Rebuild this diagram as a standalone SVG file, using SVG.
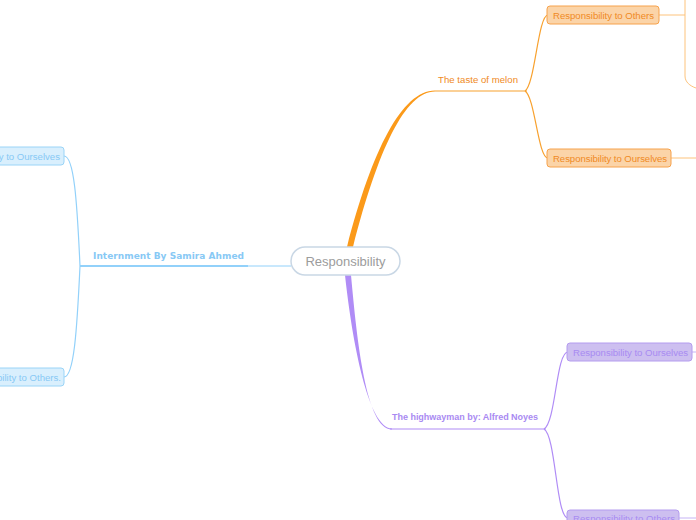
<svg xmlns="http://www.w3.org/2000/svg" width="696" height="520" viewBox="0 0 696 520">
<style>
.t{font-family:"Liberation Sans",Arial,sans-serif;font-size:9.6px}
.or{fill:#fbd4a8;stroke:#f6a24c;stroke-width:1}
.ort{fill:#f08a24}
.pu{fill:#cdbff0;stroke:#b49cef;stroke-width:1}
.put{fill:#a88bf2}
.bl{fill:#d9effd;stroke:#9ad4f7;stroke-width:1}
.blt{fill:#88c9f5}
.lo{fill:none;stroke:#f8a12e;stroke-width:1.2}
.lo2{fill:none;stroke:#fdc37c;stroke-width:1}
.lp{fill:none;stroke:#b08cf6;stroke-width:1.2}
.lb{fill:none;stroke:#92d1fa;stroke-width:1.2}
</style>
<rect width="696" height="520" fill="#ffffff"/>
<g id="connectors">
<!-- orange main tapered -->
<path d="M347,247 C372,150 402,90.4 435,90.4 L435,91.6 C405,91.6 378,150 353,247 Z" fill="#fb9a1a"/>
<path class="lo" d="M435,91 L527,91"/>
<path class="lo" d="M525,91 C535,85 538,15 548,15"/>
<path class="lo" d="M525,91 C535,97 538,158 548,158"/>
<path class="lo2" d="M659,15 L685,15"/>
<path class="lo2" d="M685,0 L685,76 C685,82 690,86 696,88"/>
<path class="lo2" d="M671,158 L696,158"/>
<!-- purple main tapered -->
<path d="M345,275 C352,340 368,428.4 392,428.4 L392,429.6 C366,429.6 357,340 351,275 Z" fill="#b08cf6"/>
<path class="lp" d="M390,429 L546,429"/>
<path class="lp" d="M544,429 C556,422 556,352 568,352"/>
<path class="lp" d="M544,429 C556,436 556,518 568,518"/>
<path class="lp" d="M692,352 L696,352" style="stroke:#c6b3f5;stroke-width:1"/>
<path class="lp" d="M679,518 L696,518" style="stroke:#c6b3f5;stroke-width:1"/>
<!-- blue -->
<path class="lb" d="M291,266 L248,266" style="stroke-width:1"/>
<path class="lb" d="M80,266 L248,266" style="stroke-width:2"/>
<path class="lb" d="M80,266 C77,200 74,156 64,156"/>
<path class="lb" d="M80,266 C77,330 74,377 64,377"/>
</g>
<g id="root">
<rect x="291" y="247" width="109" height="28" rx="14" fill="#ffffff" stroke="#c9d7e5" stroke-width="1.5"/>
<text x="345.5" y="266" text-anchor="middle" font-family="Liberation Sans,Arial,sans-serif" font-size="13" fill="#9c9c9c">Responsibility</text>
</g>
<g id="melon">
<text x="438" y="83" class="t ort" style="font-size:9.6px" textLength="80">The taste of melon</text>
</g>
<g id="melon-others">
<rect class="or" x="547" y="6" width="112" height="18" rx="3"/>
<text x="553" y="18.5" class="t ort" textLength="101">Responsibility to Others</text>
</g>
<g id="melon-ourselves">
<rect class="or" x="547" y="149" width="124" height="18" rx="3"/>
<text x="553" y="161.5" class="t ort" textLength="114">Responsibility to Ourselves</text>
</g>
<g id="highwayman">
<text x="392" y="420" font-family="Liberation Sans,Arial,sans-serif" font-weight="bold" font-size="9" fill="#a98af2" textLength="146">The highwayman by: Alfred Noyes</text>
</g>
<g id="hw-ourselves">
<rect class="pu" x="567" y="343" width="125" height="18" rx="3"/>
<text x="573" y="355.5" class="t put" textLength="115">Responsibility to Ourselves</text>
</g>
<g id="hw-others">
<rect class="pu" x="567" y="510" width="112" height="18" rx="3"/>
<text x="573" y="522" class="t put" textLength="102">Responsibility to Others</text>
</g>
<g id="internment">
<text x="93" y="259" font-family="DejaVu Sans,Verdana,sans-serif" font-weight="bold" font-size="9" fill="#88c9f5" textLength="151">Internment By Samira Ahmed</text>
</g>
<g id="int-ourselves">
<rect class="bl" x="-72" y="147" width="136" height="18" rx="3"/>
<text x="60" y="159.5" text-anchor="end" class="t blt">Responsibility to Ourselves</text>
</g>
<g id="int-others">
<rect class="bl" x="-72" y="368" width="136" height="18" rx="3"/>
<text x="61" y="380.5" text-anchor="end" class="t blt">Responsibility to Others.</text>
</g>
</svg>
